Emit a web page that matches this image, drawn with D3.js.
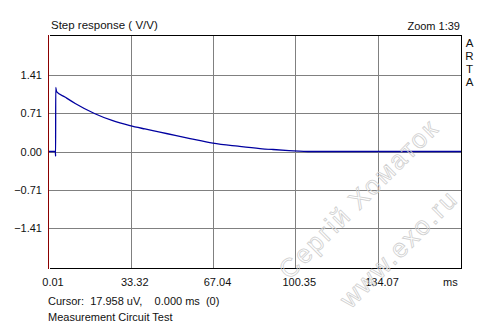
<!DOCTYPE html>
<html>
<head>
<meta charset="utf-8">
<script src="https://cdn.jsdelivr.net/npm/d3@7"></script>
<style>
  body { margin: 0; background: #fff; }
  svg { display: block; font-family: "Liberation Sans", Arial, sans-serif; }
</style>
</head>
<body>
<script>
// step response samples, time in ms / value in V/V
const stepTime = [0.01, 2.6, 2.7, 2.75, 3.1, 6.5, 10.7, 18.75, 25.7, 33.0, 39.1, 45.2, 51.4, 57.5, 66.8, 77.0, 86.0, 91.3, 97.8, 106.8, 167.9];
const stepValue = [0, 0, -0.09, 1.19, 1.11, 1.01, 0.89, 0.70, 0.575, 0.48, 0.418, 0.36, 0.298, 0.24, 0.155, 0.098, 0.055, 0.037, 0.018, 0, 0];

const xTicks = [0.01, 33.32, 67.04, 100.35, 134.07];
const yTicks = [1.41, 0.71, 0.00, -0.71, -1.41];
const xDomain = [0.01, 167.9];
const yDomain = [-2.16, 2.16];

const width = 479, height = 328;
const margin = {top: 35, right: 18, bottom: 60, left: 49};

const svg = d3.select("body").append("svg")
    .attr("width", width)
    .attr("height", height);

const x = d3.scaleLinear().domain(xDomain).range([margin.left, width - margin.right]);
const y = d3.scaleLinear().domain(yDomain).range([height - margin.bottom, margin.top]);
const px = v => Math.round(v) + 0.5;

// grid
const grid = svg.append("g").attr("stroke", "#808080").attr("stroke-width", 1).attr("shape-rendering", "crispEdges");
grid.selectAll("line.v")
    .data(xTicks.slice(1))
    .enter().append("line")
    .attr("x1", d => px(x(d))).attr("x2", d => px(x(d)))
    .attr("y1", margin.top).attr("y2", height - margin.bottom);
grid.selectAll("line.h")
    .data(yTicks)
    .enter().append("line")
    .attr("x1", margin.left).attr("x2", width - margin.right)
    .attr("y1", d => px(y(d))).attr("y2", d => px(y(d)));

// frame
const frame = svg.append("g").attr("shape-rendering", "crispEdges").attr("stroke-width", 1);
frame.append("path")
    .attr("d", `M${px(margin.left)},${px(margin.top)}H${px(width - margin.right)}V${px(height - margin.bottom)}H${px(margin.left)}`)
    .attr("fill", "none").attr("stroke", "#000");
frame.append("line")
    .attr("x1", px(margin.left) - 1).attr("x2", px(margin.left) - 1)
    .attr("y1", margin.top).attr("y2", height - margin.bottom + 1)
    .attr("stroke", "#8b0000");

// step response curve
const line = d3.line()
    .x((d, i) => x(stepTime[i]))
    .y(d => y(d))
    .curve(d3.curveMonotoneX);

svg.append("path")
    .datum(stepValue)
    .attr("d", line)
    .attr("fill", "none")
    .attr("stroke", "#0000a0")
    .attr("stroke-width", 1.3);

// axis labels
svg.append("g")
    .attr("font-size", 11).attr("fill", "#111").attr("text-anchor", "end")
    .selectAll("text")
    .data(yTicks)
    .enter().append("text")
    .attr("x", 42)
    .attr("y", d => y(d) + 4)
    .text(d => d3.format(".2f")(d));

svg.append("g")
    .attr("font-size", 11).attr("fill", "#111").attr("text-anchor", "middle")
    .selectAll("text")
    .data(xTicks)
    .enter().append("text")
    .attr("x", d => x(d) + 4)
    .attr("y", 285.5)
    .text(d => d3.format(".2f")(d));

svg.append("text").attr("x", 443).attr("y", 285.5).attr("font-size", 11).attr("fill", "#111").text("ms");

// titles and info
svg.append("text").attr("x", 51).attr("y", 28.5).attr("font-size", 11.5).attr("fill", "#111").text("Step response ( V/V)");
svg.append("text").attr("x", 460).attr("y", 29.5).attr("font-size", 11).attr("fill", "#111")
    .attr("text-anchor", "end").text("Zoom 1:39");
svg.append("g").attr("font-size", 11.5).attr("fill", "#111").attr("text-anchor", "middle")
    .selectAll("text")
    .data(["A", "R", "T", "A"])
    .enter().append("text")
    .attr("x", 469.5)
    .attr("y", (d, i) => 46.5 + i * 13)
    .text(d => d);

svg.append("text").attr("x", 48).attr("y", 304.5).attr("font-size", 11).attr("fill", "#111")
    .attr("xml:space", "preserve").style("white-space", "pre")
    .text("Cursor:  17.958 uV,    0.000 ms  (0)");
svg.append("text").attr("x", 48).attr("y", 321).attr("font-size", 11).attr("fill", "#111")
    .text("Measurement Circuit Test");

// watermark
const wm = svg.append("g")
    .attr("fill", "none").attr("stroke", "#cfcfcf").attr("stroke-width", 0.8)
    .attr("font-size", 26).attr("text-anchor", "middle").attr("letter-spacing", 2);
wm.append("text")
    .attr("transform", "translate(365,205) rotate(-45)")
    .text("Сергій Хоматок");
wm.append("text")
    .attr("transform", "translate(405,255) rotate(-45)")
    .text("www.exo.ru");
</script>
</body>
</html>
